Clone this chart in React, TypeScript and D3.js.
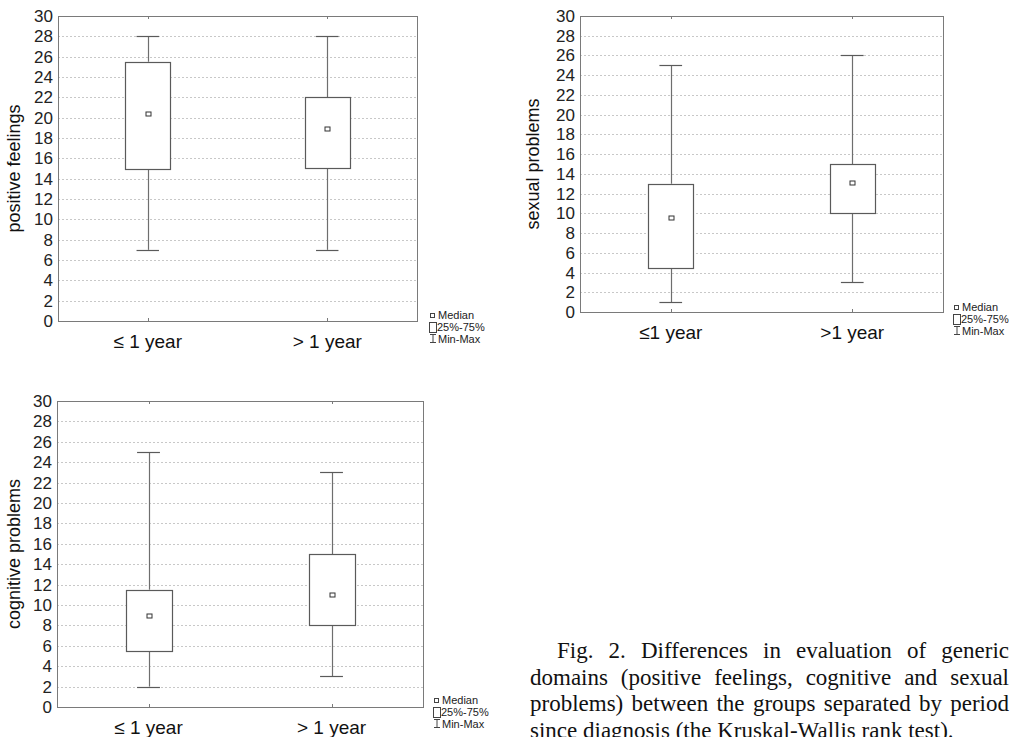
import React from "react";
import * as d3 from "d3";

// ---- data ----
const groupsA = ["≤ 1 year", "> 1 year"];
const groupsB = ["≤1 year", ">1 year"];
const yTicks = [0, 2, 4, 6, 8, 10, 12, 14, 16, 18, 20, 22, 24, 26, 28, 30];

const posMin = [7, 7];
const posQ1 = [15, 15];
const posMed = [20.4, 18.9];
const posQ3 = [25.5, 22];
const posMax = [28, 28];

const sexMin = [1, 3];
const sexQ1 = [4.5, 10];
const sexMed = [9.5, 13.1];
const sexQ3 = [13, 15];
const sexMax = [25, 26];

const cogMin = [2, 3];
const cogQ1 = [5.5, 8];
const cogMed = [8.9, 11];
const cogQ3 = [11.5, 15];
const cogMax = [25, 23];

const legendLabels = ["Median", "25%-75%", "Min-Max"];

const captionLines = [
  "Fig. 2. Differences in evaluation of generic",
  "domains (positive feelings, cognitive and sexual",
  "problems) between the groups separated by period",
  "since diagnosis (the Kruskal-Wallis rank test).",
];

type PanelProps = {
  left: number; top: number; right: number; bottom: number;
  label: string; labelX: number;
  groups: string[];
  mins: number[]; q1s: number[]; meds: number[]; q3s: number[]; maxs: number[];
  legX: number; legY: number;
};

const SANS = "'Liberation Sans', Arial, sans-serif";
const SERIF = "'Liberation Serif', 'Times New Roman', serif";

function Panel(p: PanelProps) {
  const w = p.right - p.left;
  const y = d3.scaleLinear().domain([0, 30]).range([p.bottom, p.top]);
  const x = d3.scalePoint<string>().domain(p.groups).range([p.left, p.right]).padding(0.5);
  const boxW = w * 0.125;
  const capW = boxW * 0.5;
  const cy = (p.top + p.bottom) / 2;
  const r = (v: number) => Math.round(v) + 0.5;
  return (
    <g>
      {yTicks.filter((t) => t > 0 && t < 30).map((t) => (
        <line key={"g" + t} x1={p.left} x2={p.right} y1={r(y(t))} y2={r(y(t))}
          stroke="#c8c8c8" strokeWidth={1} strokeDasharray="2,2" />
      ))}
      <rect x={r(p.left)} y={r(p.top)} width={Math.round(w)} height={Math.round(p.bottom - p.top)}
        fill="none" stroke="#7a7a7a" strokeWidth={1} />
      {p.groups.map((g) => (
        <g key={"t" + g}>
          <line x1={r(x(g)!)} x2={r(x(g)!)} y1={p.bottom} y2={p.bottom - 3} stroke="#7a7a7a" />
          <line x1={r(x(g)!)} x2={r(x(g)!)} y1={p.top} y2={p.top + 3} stroke="#7a7a7a" />
        </g>
      ))}
      {yTicks.map((t) => (
        <text key={"l" + t} x={p.left - 5} y={y(t) + 6} textAnchor="end"
          fontFamily={SANS} fontSize={17} fill="#222">{t}</text>
      ))}
      <text transform={`translate(${p.labelX},${cy}) rotate(-90)`} textAnchor="middle"
        fontFamily={SANS} fontSize={18} fill="#111">{p.label}</text>
      {p.groups.map((g, i) => {
        const cx = x(g)!;
        return (
          <g key={"b" + g}>
            <line x1={r(cx)} x2={r(cx)} y1={y(p.maxs[i])} y2={y(p.q3s[i])} stroke="#6e6e6e" strokeWidth={1.2} />
            <line x1={r(cx)} x2={r(cx)} y1={y(p.q1s[i])} y2={y(p.mins[i])} stroke="#6e6e6e" strokeWidth={1.2} />
            <line x1={cx - capW / 2} x2={cx + capW / 2} y1={r(y(p.maxs[i]))} y2={r(y(p.maxs[i]))} stroke="#5a5a5a" strokeWidth={1.2} />
            <line x1={cx - capW / 2} x2={cx + capW / 2} y1={r(y(p.mins[i]))} y2={r(y(p.mins[i]))} stroke="#5a5a5a" strokeWidth={1.2} />
            <rect x={r(cx - boxW / 2)} y={r(y(p.q3s[i]))} width={Math.round(boxW)}
              height={Math.round(y(p.q1s[i]) - y(p.q3s[i]))} fill="#fff" stroke="#5a5a5a" strokeWidth={1.2} />
            <rect x={r(cx) - 2.5} y={r(y(p.meds[i])) - 2.5} width={5} height={4}
              fill="#fff" stroke="#333" strokeWidth={1} />
            <text x={cx} y={p.bottom + 27} textAnchor="middle" fontFamily={SANS} fontSize={19} fill="#111">{g}</text>
          </g>
        );
      })}
      <g fontFamily={SANS} fontSize={11} fill="#222">
        <rect x={p.legX + 1.5} y={p.legY - 1.5} width={4} height={4} fill="#fff" stroke="#444" strokeWidth={1} />
        <text x={p.legX + 9} y={p.legY + 4}>{legendLabels[0]}</text>
        <rect x={p.legX + 0.5} y={p.legY + 7.5} width={7} height={10} fill="#fff" stroke="#444" strokeWidth={1} />
        <text x={p.legX + 8} y={p.legY + 16}>{legendLabels[1]}</text>
        <line x1={p.legX + 4} x2={p.legX + 4} y1={p.legY + 19} y2={p.legY + 28} stroke="#444" />
        <line x1={p.legX + 1} x2={p.legX + 7} y1={p.legY + 19.5} y2={p.legY + 19.5} stroke="#444" />
        <line x1={p.legX + 1} x2={p.legX + 7} y1={p.legY + 27.5} y2={p.legY + 27.5} stroke="#444" />
        <text x={p.legX + 9} y={p.legY + 28}>{legendLabels[2]}</text>
      </g>
    </g>
  );
}

function Caption() {
  const left = 530, right = 1009, indent = 27, fs = 23;
  const baselines = [658, 684.5, 711, 737.5];
  const canvas = typeof document !== "undefined" ? document.createElement("canvas") : null;
  const ctx = canvas ? canvas.getContext("2d") : null;
  if (ctx) ctx.font = `${fs}px 'Liberation Serif'`;
  const measure = (s: string) => (ctx ? ctx.measureText(s).width : s.length * fs * 0.45);
  return (
    <g fontFamily={SERIF} fontSize={fs} fill="#111">
      {captionLines.map((line, li) => {
        const words = line.split(" ");
        const x0 = li === 0 ? left + indent : left;
        const last = li === captionLines.length - 1;
        const widths = words.map(measure);
        const total = widths.reduce((a, b) => a + b, 0);
        const gap = last ? measure(" ") : (right - x0 - total) / (words.length - 1);
        let cx = x0;
        return words.map((wd, wi) => {
          const el = <text key={li + "-" + wi} x={cx} y={baselines[li]}>{wd}</text>;
          cx += widths[wi] + gap;
          return el;
        });
      })}
    </g>
  );
}

export default function App() {
  return (
    <svg width={1014} height={737} style={{ position: "absolute", left: 0, top: 0, background: "#fff" }}>
      <rect width={1014} height={737} fill="#fff" />
      <Panel left={58} top={16} right={417} bottom={321} label="positive feelings" labelX={20}
        groups={groupsA} mins={posMin} q1s={posQ1} meds={posMed} q3s={posQ3} maxs={posMax}
        legX={429} legY={315} />
      <Panel left={580} top={16} right={943} bottom={312} label="sexual problems" labelX={539}
        groups={groupsB} mins={sexMin} q1s={sexQ1} meds={sexMed} q3s={sexQ3} maxs={sexMax}
        legX={953} legY={307} />
      <Panel left={57} top={401} right={423} bottom={707} label="cognitive problems" labelX={20}
        groups={groupsA} mins={cogMin} q1s={cogQ1} meds={cogMed} q3s={cogQ3} maxs={cogMax}
        legX={433} legY={700} />
      <Caption />
    </svg>
  );
}
